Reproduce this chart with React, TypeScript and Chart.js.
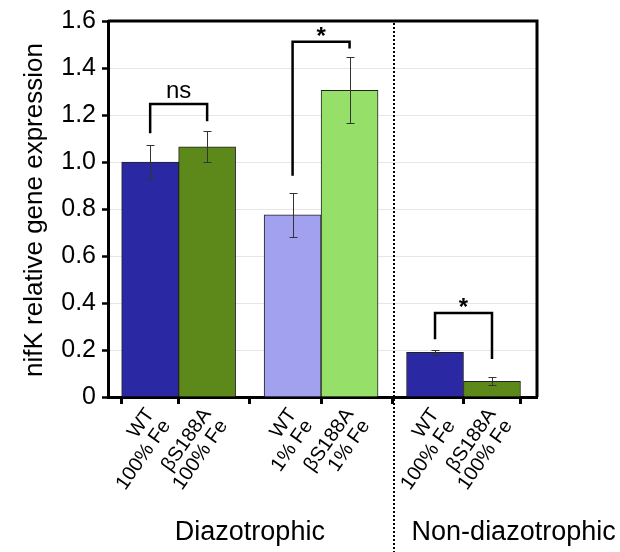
import React, { useEffect, useRef } from 'react';
import { Chart, registerables } from 'chart.js';

Chart.register(...registerables);

// ---- data ----
const xPositions = [0, 1, 2.5, 3.5, 5, 6];
const tickLabels = [
  ['WT', '100% Fe'],
  ['βS188A', '100% Fe'],
  ['WT', '1% Fe'],
  ['βS188A', '1% Fe'],
  ['WT', '100% Fe'],
  ['βS188A', '100% Fe'],
];
const values = [1.0, 1.065, 0.775, 1.305, 0.19, 0.067];
const errors = [0.072, 0.065, 0.095, 0.14, 0.011, 0.017];
const barColors = ['#2a28a3', '#5d891b', '#a1a1f0', '#96e06a', '#2a28a3', '#5d891b'];

const bracketLeft = [0, 2.5, 5];
const bracketRight = [1, 3.5, 6];
const bracketTop = [1.247, 1.512, 0.357];
const bracketLeftEnd = [1.122, 0.942, 0.246];
const bracketRightEnd = [1.173, 1.483, 0.162];
const bracketLabels = ['ns', '*', '*'];

const groupLabels = ['Diazotrophic', 'Non-diazotrophic'];
const groupCenters = [1.75, 6.38];
const dividerX = 4.28;
const yTitle = 'nifK relative gene expression';

const FONT = "'Liberation Sans', Arial, sans-serif";

const overlay = {
  id: 'overlay',
  afterDatasetsDraw(chart: any) {
    const { ctx } = chart;
    const xs = chart.scales.x;
    const ys = chart.scales.y;
    ctx.save();
    ctx.strokeStyle = '#333';
    ctx.lineWidth = 1;
    xPositions.forEach((xv, i) => {
      const px = Math.round(xs.getPixelForValue(xv));
      const top = Math.round(ys.getPixelForValue(values[i] + errors[i]));
      const bot = Math.round(ys.getPixelForValue(values[i] - errors[i]));
      ctx.beginPath();
      ctx.moveTo(px + 0.5, top);
      ctx.lineTo(px + 0.5, bot);
      ctx.moveTo(px - 3.5, top + 0.5);
      ctx.lineTo(px + 4.5, top + 0.5);
      ctx.moveTo(px - 3.5, bot + 0.5);
      ctx.lineTo(px + 4.5, bot + 0.5);
      ctx.stroke();
    });
    ctx.restore();
  },
  afterDraw(chart: any) {
    const { ctx, chartArea } = chart;
    const xs = chart.scales.x;
    const ys = chart.scales.y;
    ctx.save();
    // top & right frame
    ctx.strokeStyle = '#000';
    ctx.lineWidth = 3;
    ctx.beginPath();
    ctx.moveTo(chartArea.left, chartArea.top);
    ctx.lineTo(chartArea.right, chartArea.top);
    ctx.lineTo(chartArea.right, chartArea.bottom);
    ctx.stroke();

    // dotted divider
    const dx = Math.round(xs.getPixelForValue(dividerX));
    ctx.lineWidth = 2;
    ctx.setLineDash([2, 2]);
    ctx.strokeStyle = '#000';
    ctx.beginPath();
    ctx.moveTo(dx, chartArea.top + 2);
    ctx.lineTo(dx, chart.height);
    ctx.stroke();
    ctx.setLineDash([]);

    // brackets
    ctx.lineWidth = 2.5;
    ctx.strokeStyle = '#000';
    ctx.fillStyle = '#000';
    bracketLabels.forEach((lab, i) => {
      const l = xs.getPixelForValue(bracketLeft[i]);
      const r = xs.getPixelForValue(bracketRight[i]);
      const t = ys.getPixelForValue(bracketTop[i]);
      ctx.beginPath();
      ctx.moveTo(l, ys.getPixelForValue(bracketLeftEnd[i]));
      ctx.lineTo(l, t);
      ctx.lineTo(r, t);
      ctx.lineTo(r, ys.getPixelForValue(bracketRightEnd[i]));
      ctx.stroke();
      ctx.textAlign = 'center';
      ctx.textBaseline = 'alphabetic';
      if (lab === '*') {
        ctx.font = `bold 24px ${FONT}`;
        ctx.fillText(lab, (l + r) / 2, t + 2);
      } else {
        ctx.font = `24px ${FONT}`;
        ctx.fillText(lab, (l + r) / 2, t - 6);
      }
    });

    // group labels
    ctx.font = `27px ${FONT}`;
    ctx.textAlign = 'center';
    ctx.textBaseline = 'middle';
    groupLabels.forEach((g, i) => {
      ctx.fillText(g, xs.getPixelForValue(groupCenters[i]), 533);
    });

    // y title
    ctx.translate(35, (chartArea.top + chartArea.bottom) / 2 + 1);
    ctx.rotate(-Math.PI / 2);
    ctx.font = `26px ${FONT}`;
    ctx.fillText(yTitle, 0, 0);
    ctx.restore();
  },
};

export default function App() {
  const ref = useRef<HTMLCanvasElement>(null);
  useEffect(() => {
    if (!ref.current) return;
    const chart = new Chart(ref.current, {
      type: 'bar',
      data: {
        datasets: [
          {
            data: xPositions.map((x, i) => ({ x, y: values[i] })),
            backgroundColor: barColors,
            borderColor: '#222',
            borderWidth: 1,
            barPercentage: 1,
            categoryPercentage: 1,
          },
        ],
      },
      options: {
        animation: false,
        responsive: false,
        devicePixelRatio: 1,
        layout: { padding: { top: 15, right: 83, left: 0, bottom: 0 } },
        plugins: { legend: { display: false }, tooltip: { enabled: false } },
        scales: {
          x: {
            type: 'linear',
            min: -0.74,
            max: 6.79,
            offset: false,
            afterBuildTicks: (s: any) => {
              s.ticks = xPositions.map((v) => ({ value: v }));
            },
            afterFit: (s: any) => {
              s.height = 155;
            },
            grid: {
              drawOnChartArea: false,
              drawTicks: true,
              tickLength: 7,
              tickColor: '#000',
              tickWidth: 3,
            },
            border: { color: '#000', width: 3 },
            ticks: {
              autoSkip: false,
              minRotation: 55,
              maxRotation: 55,
              padding: 1,
              color: '#000',
              font: { family: FONT, size: 20, lineHeight: 1.0 },
              callback: (v: any) => {
                const i = xPositions.indexOf(Number(v));
                return i >= 0 ? tickLabels[i] : '';
              },
            },
          },
          y: {
            min: 0,
            max: 1.6,
            afterFit: (s: any) => {
              s.width = 108;
            },
            grid: {
              color: '#e6e6e6',
              lineWidth: 1,
              tickColor: '#000',
              tickWidth: 2.5,
              tickLength: 6,
            },
            border: { color: '#000', width: 3 },
            ticks: {
              stepSize: 0.2,
              padding: 6,
              color: '#000',
              font: { family: FONT, size: 25 },
              callback: (v: any) => (Number(v) === 0 ? '0' : Number(v).toFixed(1)),
            },
          },
        },
      },
      plugins: [overlay],
    });
    return () => chart.destroy();
  }, []);
  return (
    <div style={{ position: 'fixed', left: 0, top: 0, width: 620, height: 552, background: '#fff' }}>
      <canvas ref={ref} width={620} height={552} />
    </div>
  );
}
